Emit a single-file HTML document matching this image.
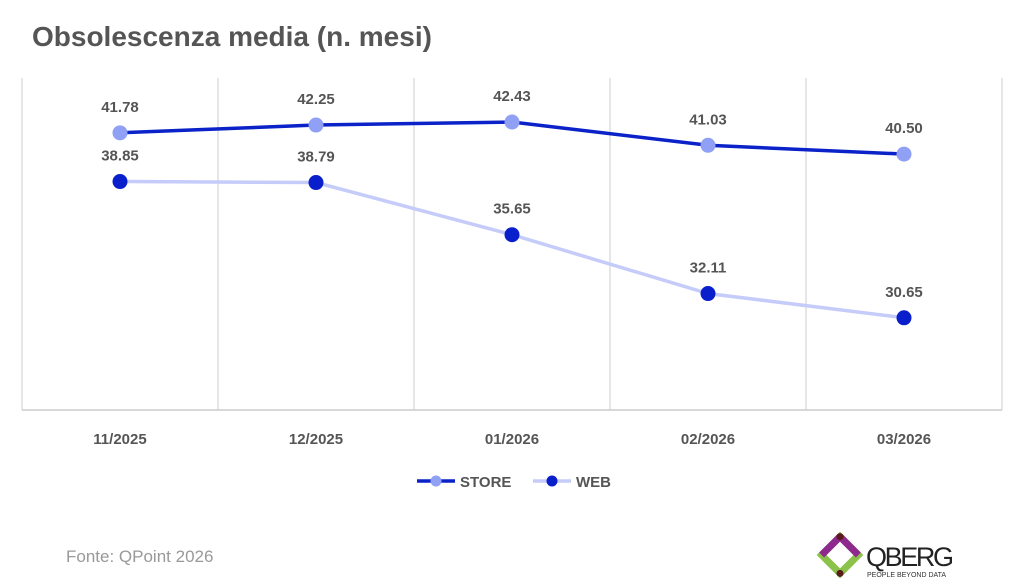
<!DOCTYPE html>
<html><head><meta charset="utf-8"><style>
body{margin:0;background:#fff;width:1024px;height:582px;overflow:hidden;font-family:"Liberation Sans",sans-serif}
svg{position:absolute;left:0;top:0}
</style></head><body>
<svg width="1024" height="582">
<text x="32" y="46" font-size="28" font-weight="bold" fill="#555">Obsolescenza media (n. mesi)</text>
<g id="grid"></g>
<g id="series"></g>
<g>
<g><line x1="417" y1="481" x2="455" y2="481" stroke="#0a22c8" stroke-width="3.5"/><circle cx="436" cy="481" r="5.5" fill="#8fa0f5"/><text x="460" y="487" font-size="15" font-weight="bold" fill="#555">STORE</text></g>
<g><line x1="533" y1="481" x2="571" y2="481" stroke="#c5ccfa" stroke-width="3.5"/><circle cx="552" cy="481" r="5.5" fill="#0a1fcc"/><text x="576" y="487" font-size="15" font-weight="bold" fill="#555">WEB</text></g>
</g>
<text x="66" y="562" font-size="17" fill="#999">Fonte: QPoint 2026</text>
<g>
<g transform="translate(840,555) rotate(45)"><rect x="-13" y="-13" width="26" height="26" fill="none" stroke="#8bc34a" stroke-width="7"/><path d="M-13,-13 L13,-13 M-13,-13 L-13,13" stroke="#8e2a8e" stroke-width="7"/><circle cx="-13" cy="-13" r="3.5" fill="#5a1a1a"/><circle cx="13" cy="13" r="3.5" fill="#5a1a1a"/></g>
<text x="866" y="566" font-size="27" fill="#222" textLength="88">QBERG</text>
<text x="867" y="577" font-size="7" fill="#333">PEOPLE BEYOND DATA</text>
</g>
</svg>
<script>
const categories=["11/2025","12/2025","01/2026","02/2026","03/2026"];
const storeValues=[41.78,42.25,42.43,41.03,40.50];
const webValues=[38.85,38.79,35.65,32.11,30.65];
const ns="http://www.w3.org/2000/svg";
const yMin=25.1,yMax=45.2,plotTop=76,plotBottom=410,plotLeft=22,plotRight=1002;
const band=(plotRight-plotLeft)/categories.length;
const xs=i=>plotLeft+band*(i+0.5);
const ys=v=>plotBottom-(v-yMin)/(yMax-yMin)*(plotBottom-plotTop);
const grid=document.getElementById('grid'),ser=document.getElementById('series');
function mk(tag,a,p){const e=document.createElementNS(ns,tag);for(const k in a)e.setAttribute(k,a[k]);p.appendChild(e);return e;}
for(let i=0;i<=categories.length;i++){
 const l=mk('line',{x1:plotLeft+band*i,x2:plotLeft+band*i,y1:78,y2:plotBottom,stroke:'#ddd','stroke-width':1.5},grid);
 
 
}
const ax=mk('line',{x1:plotLeft,x2:plotRight,y1:plotBottom,y2:plotBottom,stroke:'#ccc','stroke-width':1.5},grid);


categories.forEach((c,i)=>{
 const t=mk('text',{x:xs(i),y:444,'text-anchor':'middle','font-size':15,'font-weight':'bold',fill:'#555'},grid);
 t.textContent=c;
 
 
});
function draw(vals,lineCol,dotCol,name){
 const p=mk('polyline',{points:vals.map((v,i)=>xs(i)+','+ys(v)).join(' '),fill:'none',stroke:lineCol,'stroke-width':3.5},ser);
 
 
 vals.forEach((v,i)=>{
  const c=mk('circle',{cx:xs(i),cy:ys(v),r:7.5,fill:dotCol},ser);
  
  
  const t=mk('text',{x:xs(i),y:ys(v)-21,'text-anchor':'middle','font-size':15,'font-weight':'bold',fill:'#555'},ser);
  t.textContent=v.toFixed(2);
  
  
 });
}
draw(webValues,'#c5ccfa','#0a1fcc','web');
draw(storeValues,'#0a22c8','#8fa0f5','store');
</script>
</body></html>
